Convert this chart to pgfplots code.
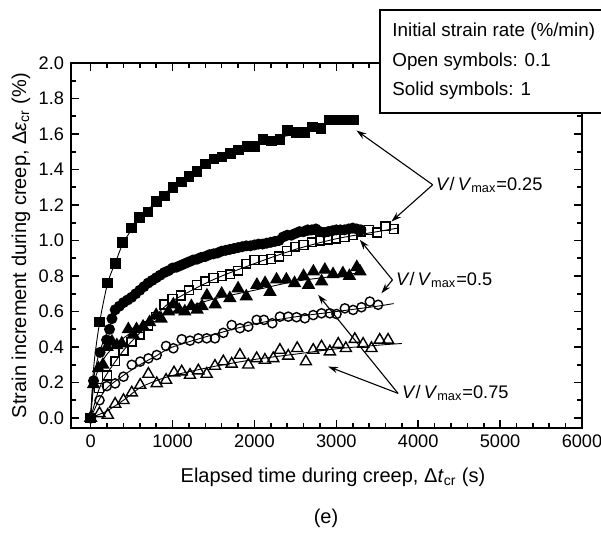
\documentclass[border=0pt]{standalone}
\usepackage{fontspec}
\setmainfont{Liberation Sans}
\usepackage{pgfplots}
\pgfplotsset{compat=1.18}
\usetikzlibrary{arrows.meta}

\pgfplotsset{
  fit/.style={black, line width=0.45pt, smooth, no marks},
  pts/.style={only marks, black, mark options={line width=0.7pt}},
}
\tikzset{ann/.style={-{Stealth[length=5pt,width=3.2pt]}, line width=0.55pt, black}}
\newcommand{\lbl}{\fontsize{10pt}{12pt}\selectfont}
\newcommand{\tck}{\fontsize{9.1pt}{11pt}\selectfont}
\newcommand{\sml}{\fontsize{9.1pt}{11pt}\selectfont}
\newcommand{\leg}{\fontsize{9.4pt}{11pt}\selectfont}

\begin{document}
\begin{tikzpicture}[font=\lbl]
\useasboundingbox (-35.5pt,-53.5pt) rectangle (265pt,214pt);
\begin{axis}[
  at={(0,0)}, anchor=south west,
  scale only axis, width=255.5pt, height=182.5pt,
  xmin=-240, xmax=6000, ymin=-0.056, ymax=2.0,
  xtick={0,1000,2000,3000,4000,5000,6000},
  ytick={0,0.2,0.4,0.6,0.8,1.0,1.2,1.4,1.6,1.8,2.0},
  minor x tick num=4, minor y tick num=1,
  tick pos=both, tick align=inside,
  major tick length=4pt, minor tick length=2.5pt,
  every tick/.append style={line width=0.8pt, black},
  axis line style={line width=1pt},
  tick label style={font=\tck},
  /pgf/number format/assume math mode=true,
  xticklabel style={/pgf/number format/.cd, set thousands separator={}},
  yticklabel style={/pgf/number format/.cd, fixed, fixed zerofill, precision=1},
  clip=false,
]
% fitted curves
\addplot[fit] coordinates {(0,0) (40,0.30) (110,0.54) (208,0.76) (306,0.88) (391,0.98) (497,1.06) (600,1.12) (800,1.22) (1000,1.30) (1200,1.36) (1400,1.42) (1600,1.47) (1800,1.51) (2000,1.54) (2300,1.58) (2600,1.61) (2900,1.66) (3250,1.69)};
\addplot[fit] coordinates {(0,0) (30,0.20) (100,0.36) (200,0.48) (300,0.58) (500,0.68) (750,0.77) (1000,0.84) (1500,0.925) (2000,0.975) (2500,1.02) (3000,1.05) (3300,1.07)};
\addplot[fit] coordinates {(0,0) (100,0.16) (200,0.25) (400,0.38) (600,0.48) (800,0.58) (1000,0.66) (1500,0.78) (2000,0.87) (2500,0.95) (3000,1.01) (3500,1.05) (3750,1.07)};
\addplot[fit] coordinates {(0,0) (40,0.19) (100,0.28) (200,0.36) (400,0.45) (600,0.51) (800,0.56) (1000,0.60) (1500,0.67) (2000,0.72) (2500,0.77) (3000,0.80) (3300,0.82)};
\addplot[fit] coordinates {(0,0) (100,0.10) (200,0.17) (400,0.24) (600,0.30) (800,0.35) (1000,0.40) (1500,0.47) (2000,0.53) (2500,0.57) (3000,0.60) (3500,0.63) (3700,0.645)};
\addplot[fit] coordinates {(0,0) (100,0.02) (200,0.04) (400,0.10) (600,0.17) (800,0.21) (1000,0.24) (1500,0.29) (2000,0.33) (2500,0.36) (3000,0.39) (3500,0.41) (3800,0.42)};

% V/Vmax = 0.25, 1 %/min (solid squares)
\addplot[pts, mark=square*, mark size=2.3pt] coordinates {
(0,0) (110,0.54) (208,0.76) (306,0.87) (391,0.99) (497,1.07) (599,1.13) (701,1.16)
(803,1.22) (905,1.25) (1006,1.30) (1108,1.33) (1202,1.36) (1300,1.39) (1402,1.43)
(1504,1.46) (1605,1.47) (1708,1.49) (1809,1.51) (1911,1.53) (2005,1.53) (2107,1.57)
(2209,1.56) (2310,1.57) (2404,1.62) (2506,1.61) (2608,1.61) (2710,1.64) (2812,1.63)
(2913,1.68) (3015,1.68) (3110,1.68) (3210,1.68)};
% V/Vmax = 0.25, 0.1 %/min (open squares)
\addplot[pts, mark=square, mark size=2.2pt] coordinates {
(0,0) (100,0.17) (200,0.24) (300,0.32) (400,0.38) (500,0.43) (600,0.47) (700,0.52)
(800,0.57) (900,0.64) (1000,0.67) (1100,0.69) (1200,0.72) (1300,0.75) (1400,0.77)
(1500,0.79) (1600,0.80) (1700,0.81) (1800,0.83) (1900,0.87) (2000,0.89) (2100,0.89)
(2200,0.895) (2300,0.91) (2400,0.94) (2500,0.965) (2600,0.975) (2700,0.99) (2800,1.0)
(2900,1.005) (3000,1.01) (3100,1.02) (3200,1.03) (3300,1.05) (3400,1.06) (3500,1.045)
(3600,1.08) (3700,1.065)};
% V/Vmax = 0.5, 1 %/min (solid circles)
\addplot[pts, mark=*, mark size=2.4pt] coordinates {
(0,0) (35,0.21) (115,0.37) (195,0.44) (230,0.50) (260,0.56) (300,0.61) (350,0.63)
(400,0.65) (450,0.665) (500,0.68) (550,0.70) (600,0.72) (650,0.74) (700,0.76)
(750,0.775) (800,0.79) (850,0.805) (900,0.82) (950,0.83) (1000,0.845) (1050,0.85)
(1100,0.86) (1150,0.87) (1200,0.88) (1250,0.89) (1300,0.895) (1350,0.905) (1400,0.91)
(1450,0.92) (1500,0.925) (1550,0.93) (1600,0.94) (1650,0.945) (1700,0.95) (1750,0.955)
(1800,0.96) (1850,0.965) (1900,0.97) (1950,0.97) (2000,0.975) (2050,0.98) (2100,0.98)
(2150,0.985) (2200,0.99) (2250,0.995) (2300,1.0) (2350,1.02) (2400,1.03) (2450,1.03)
(2500,1.04) (2550,1.05) (2600,1.05) (2650,1.06) (2700,1.06) (2750,1.065) (2800,1.05)
(2850,1.045) (2900,1.05) (2950,1.055) (3000,1.06) (3050,1.06) (3100,1.06) (3150,1.065)
(3200,1.07) (3250,1.065) (3300,1.06)};
% V/Vmax = 0.5, 0.1 %/min (open circles)
\addplot[pts, mark=o, mark size=2.3pt] coordinates {
(0,0) (108,0.10) (197,0.18) (299,0.195) (401,0.233) (502,0.30) (605,0.318) (705,0.336)
(807,0.355) (921,0.406) (1010,0.393) (1112,0.444) (1213,0.436) (1315,0.449) (1417,0.449)
(1518,0.449) (1620,0.48) (1722,0.524) (1823,0.506) (1925,0.515) (2027,0.553) (2116,0.553)
(2218,0.534) (2311,0.571) (2413,0.571) (2514,0.568) (2616,0.562) (2718,0.58) (2819,0.59)
(2921,0.59) (3002,0.586) (3104,0.618) (3205,0.609) (3307,0.624) (3409,0.656) (3510,0.638)};
% V/Vmax = 0.75, 1 %/min (solid triangles)
\addplot[pts, mark=triangle*, mark size=3.2pt] coordinates {
(0,0) (35,0.19) (95,0.28) (150,0.30) (200,0.40) (260,0.43) (320,0.41) (380,0.42)
(460,0.50) (520,0.47) (560,0.50) (640,0.515) (720,0.54) (800,0.58) (860,0.56) (950,0.60)
(1010,0.64) (1080,0.61) (1150,0.60) (1230,0.63) (1300,0.61) (1360,0.63) (1420,0.69)
(1520,0.64) (1600,0.70) (1700,0.675) (1800,0.73) (1900,0.685) (2030,0.75) (2130,0.76)
(2190,0.71) (2270,0.78) (2390,0.78) (2490,0.76) (2600,0.80) (2660,0.75) (2720,0.825)
(2820,0.77) (2860,0.835) (2960,0.81) (3080,0.815) (3160,0.80) (3250,0.85) (3290,0.825)};
% V/Vmax = 0.75, 0.1 %/min (open triangles)
\addplot[pts, mark=triangle, mark size=3.2pt] coordinates {
(0,0) (108,0.026) (209,0.017) (299,0.079) (401,0.10) (502,0.143) (605,0.186) (705,0.248)
(807,0.195) (921,0.214) (1018,0.256) (1112,0.261) (1213,0.242) (1315,0.267) (1417,0.248)
(1518,0.293) (1620,0.318) (1722,0.305) (1823,0.355) (1925,0.30) (2027,0.336) (2128,0.327)
(2230,0.336) (2311,0.383) (2413,0.35) (2522,0.393) (2628,0.318) (2718,0.383) (2819,0.402)
(2921,0.374) (3023,0.417) (3116,0.393) (3226,0.444) (3327,0.417) (3429,0.393) (3530,0.44)
(3632,0.44)};

% annotations
\draw[ann] (axis cs:4177,1.314) -- (axis cs:3246,1.62);
\draw[ann] (axis cs:4177,1.314) -- (axis cs:3673,1.107);
\node[anchor=west, inner sep=1pt, font=\sml] at (axis cs:4190,1.314) {\textit{V}/\,\textit{V}\textsubscript{max}=0.25};
\draw[ann] (axis cs:3685,0.778) -- (axis cs:3287,1.004);
\draw[ann] (axis cs:3685,0.778) -- (axis cs:3551,0.703);
\node[anchor=west, inner sep=1pt, font=\sml] at (axis cs:3700,0.778) {\textit{V}/\,\textit{V}\textsubscript{max}=0.5};
\draw[ann] (axis cs:3754,0.139) -- (axis cs:2778,0.694);
\draw[ann] (axis cs:3754,0.139) -- (axis cs:2900,0.29);
\node[anchor=west, inner sep=1pt, font=\sml] at (axis cs:3775,0.139) {\textit{V}/\,\textit{V}\textsubscript{max}=0.75};
\end{axis}

% labels
\node[rotate=90] at (-25pt,91.25pt) {Strain increment during creep, Δ\textit{ε}\textsubscript{cr} (\%)};
\node at (131pt,-24.5pt) {Elapsed time during creep, Δ\textit{t}\textsubscript{cr} (s)};
\node at (127.5pt,-45pt) {(e)};

% legend box
\draw[fill=white, line width=0.6pt] (154.5pt,157.5pt) rectangle (270pt,209pt);
\node[anchor=west, inner sep=0pt, font=\leg] at (160.5pt,198pt) {Initial strain rate (\%/min)};
\node[anchor=west, inner sep=0pt, font=\leg] at (160.5pt,183pt) {Open symbols: 0.1};
\node[anchor=west, inner sep=0pt, font=\leg] at (160.5pt,168.5pt) {Solid symbols: 1};
\end{tikzpicture}
\end{document}
